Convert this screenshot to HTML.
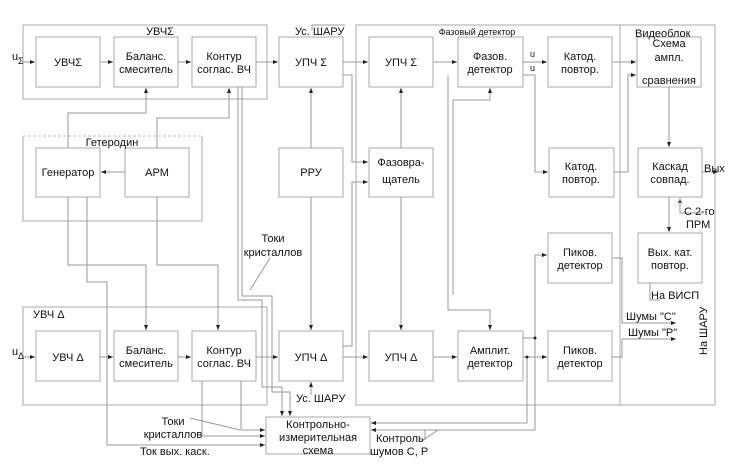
<!DOCTYPE html>
<html><head><meta charset="utf-8"><style>
body{margin:0;background:#fff}
svg{display:block}
text{font-family:"Liberation Sans",sans-serif;font-size:11px;fill:#111}
.b{fill:#fff;stroke:#aaa;stroke-width:1}
.o{fill:none;stroke:#aaa;stroke-width:1}
.l{fill:none;stroke:#999;stroke-width:1}
</style></head><body>
<svg width="737" height="468" viewBox="0 0 737 468">
<defs><marker id="a" markerWidth="6" markerHeight="6" refX="5" refY="3" orient="auto" markerUnits="userSpaceOnUse"><path d="M0,1 L5,3 L0,5z" fill="#222"/></marker></defs>
<!-- outer boxes -->
<rect class="o" x="23" y="25" width="244" height="74"/>
<path d="M23,136 H202" stroke="#bbb" stroke-dasharray="3,2" fill="none"/>
<path class="o" d="M23,136 V221 H202 V136"/>
<rect class="o" x="23" y="307" width="244" height="98"/>
<rect class="o" x="356" y="25" width="359" height="380"/>
<line class="o" x1="620" y1="25" x2="620" y2="405"/>
<!-- boxes -->
<g class="b">
<rect x="36" y="37" width="64" height="50"/><rect x="114" y="37" width="64" height="50"/><rect x="192" y="37" width="64" height="50"/><rect x="279" y="37" width="64" height="50"/>
<rect x="36" y="148" width="64" height="49"/><rect x="125" y="148" width="64" height="49"/><rect x="279" y="148" width="64" height="49"/>
<rect x="369" y="37" width="64" height="50"/><rect x="458" y="37" width="65" height="50"/><rect x="548" y="37" width="64" height="50"/><rect x="637" y="37" width="64" height="50"/>
<rect x="369" y="148" width="64" height="49"/><rect x="549" y="148" width="65" height="49"/><rect x="638" y="148" width="64" height="49"/>
<rect x="548" y="233" width="64" height="50"/><rect x="638" y="233" width="64" height="50"/>
<rect x="36" y="331" width="64" height="50"/><rect x="114" y="331" width="64" height="50"/><rect x="192" y="331" width="64" height="50"/><rect x="279" y="331" width="64" height="50"/>
<rect x="369" y="331" width="64" height="50"/><rect x="458" y="331" width="65" height="50"/><rect x="548" y="331" width="64" height="50"/>
<rect x="266" y="417" width="104" height="37"/>
</g>
<!-- lines -->
<g class="l" marker-end="url(#a)">
<path d="M22,62 H35"/><path d="M100,62 H113"/><path d="M178,62 H191"/><path d="M256,62 H278"/><path d="M343,62 H368"/><path d="M433,62 H457"/><path d="M523,62 H547"/><path d="M612,62 H636"/>
<path d="M22,357 H35"/><path d="M100,357 H113"/><path d="M178,357 H191"/><path d="M256,357 H278"/><path d="M343,357 H368"/><path d="M433,357 H457"/><path d="M523,357 H547"/>
<path d="M125,172 H101"/>
<path d="M68,148 V113 H146 V88"/><path d="M157,148 V118 H229 V88"/>
<path d="M311,148 V88"/><path d="M311,197 V330"/><path d="M311,395 V382"/>
<path d="M343,75 H352 V162 H368"/><path d="M343,346 H352 V182 H368"/>
<path d="M401,148 V88"/><path d="M401,197 V330"/>
<path d="M453,295 V100 H490 V88"/>
<path d="M448,75 V310 H490 V330"/>
<path d="M523,75 H535 V172 H548"/>
<path d="M614,172 H628 V75 H636"/>
<path d="M669,87 V147"/><path d="M669,197 V232"/><path d="M680,213 V198"/>
<path d="M702,172 H718"/>
<path d="M68,197 V265 H146 V330"/><path d="M87,197 V282 H107 V445 H265"/>
<path d="M157,197 V265 H218 V330"/>
<path d="M523,338 H535 V255 H547"/>
<path d="M612,258 H622 V323 H676"/><path d="M612,357 H622 V339 H676"/>
<path d="M527,357 V423 H371"/><path d="M535,338 V430 H371"/>
<path d="M238,87 V300 H262 V387 H282 V416"/><path d="M242,87 V296 H272 V392 H290 V416"/>
<path d="M202,381 V436 H265"/><path d="M241,381 V430 H265"/>
</g>
<path class="l" d="M680,198 V213 H702"/><path class="l" d="M650,283 V300 H660"/>
<path class="l" d="M250,290 L270,258"/><path class="l" d="M190,418 L240,430"/>
<path class="l" d="M425,430 V440"/><path class="l" d="M420,442 L438,430"/>
<path class="l" d="M312,30 V25 H345"/>
<circle cx="527" cy="357" r="1.5" fill="#222"/><circle cx="535" cy="338" r="1.5" fill="#222"/>
<!-- text -->
<g text-anchor="middle">
<text x="160" y="35">УВЧΣ</text>
<text x="68" y="66">УВЧΣ</text>
<text x="146" y="60">Баланс.</text><text x="146" y="73">смеситель</text>
<text x="224" y="60">Контур</text><text x="224" y="73">соглас. ВЧ</text>
<text x="311" y="66">УПЧ Σ</text>
<text x="112" y="146">Гетеродин</text>
<text x="68" y="176">Генератор</text><text x="157" y="176">АРМ</text><text x="311" y="176">РРУ</text>
<text x="401" y="66">УПЧ Σ</text>
<text x="490" y="60">Фазов.</text><text x="490" y="73">детектор</text>
<text x="580" y="60">Катод.</text><text x="580" y="73">повтор.</text>
<text x="669" y="47">Схема</text><text x="669" y="61">ампл.</text><text x="669" y="84">сравнения</text>
<text x="401" y="166">Фазовра-</text><text x="401" y="183">щатель</text>
<text x="581" y="170">Катод.</text><text x="581" y="183">повтор.</text>
<text x="670" y="170">Каскад</text><text x="670" y="183">совпад.</text>
<text x="580" y="256">Пиков.</text><text x="580" y="269">детектор</text>
<text x="670" y="256">Вых. кат.</text><text x="670" y="269">повтор.</text>
<text x="68" y="361">УВЧ Δ</text>
<text x="146" y="354">Баланс.</text><text x="146" y="367">смеситель</text>
<text x="224" y="354">Контур</text><text x="224" y="367">соглас. ВЧ</text>
<text x="311" y="361">УПЧ Δ</text><text x="401" y="361">УПЧ Δ</text>
<text x="490" y="354">Амплит.</text><text x="490" y="367">детектор</text>
<text x="580" y="354">Пиков.</text><text x="580" y="367">детектор</text>
<text x="318" y="428">Контрольно-</text><text x="318" y="441">измерительная</text><text x="318" y="454">схема</text>
<text x="273" y="242">Токи</text><text x="273" y="256">кристаллов</text>
<text x="173" y="425">Токи</text><text x="173" y="438">кристаллов</text>
</g>
<text x="295" y="35">Ус. ШАРУ</text>
<text x="477" y="35" style="font-size:9px" text-anchor="middle">Фазовый детектор</text>
<text x="635" y="37">Видеоблок</text>
<text x="530" y="57" style="font-size:9px">u</text><text x="530" y="71" style="font-size:9px">u</text>
<text x="704" y="172">Вых</text>
<text x="684" y="215">С 2-го</text><text x="686" y="228">ПРМ</text>
<text x="651" y="299">На ВИСП</text>
<text x="626" y="320">Шумы "С"</text><text x="628" y="336">Шумы "Р"</text>
<text transform="translate(707,355) rotate(-90)">На ШАРУ</text>
<text x="33" y="318">УВЧ Δ</text>
<text x="12" y="60">u</text><text x="18" y="64" style="font-size:9px">Σ</text>
<text x="12" y="355">u</text><text x="18" y="359" style="font-size:9px">Δ</text>
<text x="296" y="402">Ус. ШАРУ</text>
<text x="140" y="455">Ток вых. каск.</text>
<text x="376" y="442">Контроль</text><text x="370" y="455">шумов  С, Р</text>
</svg>
</body></html>
